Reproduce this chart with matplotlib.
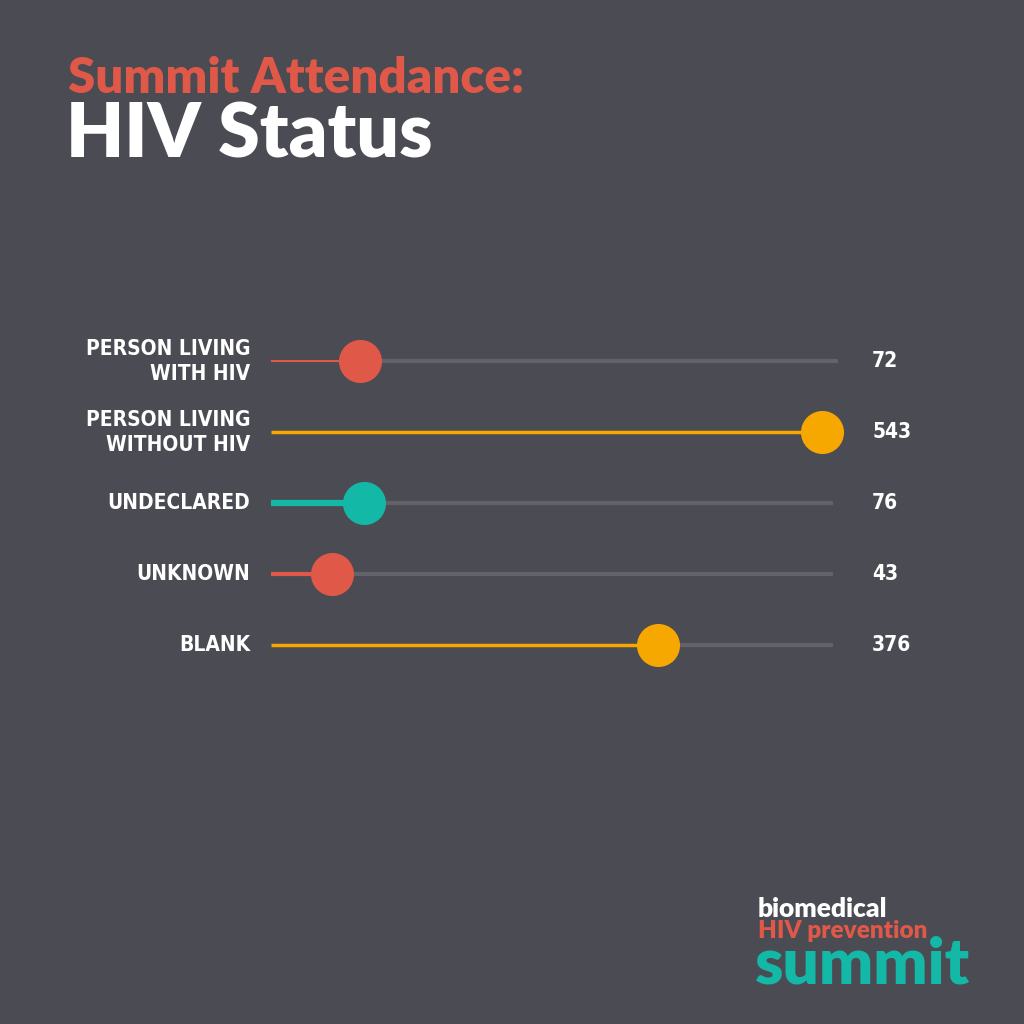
import matplotlib.pyplot as plt
from matplotlib import font_manager

categories = ['PERSON LIVING\nWITH HIV', 'PERSON LIVING\nWITHOUT HIV', 'UNDECLARED', 'UNKNOWN', 'BLANK']
counts = [72, 543, 76, 43, 376]
colors = ['#e05848', '#f7a800', '#14b8a6', '#e05848', '#f7a800']
line_widths = [1.5, 2.5, 4.5, 3, 2.5]

bg = '#4b4b54'
track = '#626269'

names = {f.name for f in font_manager.fontManager.ttflist}
head = 'Lato' if 'Lato' in names else 'DejaVu Sans'

fig = plt.figure(figsize=(10.24, 10.24), dpi=100, facecolor=bg)

# main dot track axes: left edge = line start, right edge = track end
ax = fig.add_axes([271 / 1024, 1 - 680 / 1024, (833 - 271) / 1024, (680 - 326) / 1024])
ax.set_facecolor(bg)
ax.set_xlim(-19, 554)
ax.set_ylim(len(categories) - 0.5, -0.5)
ax.axis('off')

x0, x1 = -19, 554
for i, (cat, v, c, lw) in enumerate(zip(categories, counts, colors, line_widths)):
    end = x1 + 5 if i == 0 else x1
    ax.plot([v, end], [i, i], color=track, lw=3, solid_capstyle='butt', zorder=1, clip_on=False)
    ax.plot([x0, v], [i, i], color=c, lw=lw, solid_capstyle='butt', zorder=2, clip_on=False)
    ax.plot(v, i, 'o', color=c, markersize=31, markeredgewidth=0, zorder=3, clip_on=False)
    ax.text(-40, i, cat, ha='right', va='center', color='white', fontsize=15,
            fontweight='bold', family='DejaVu Sans', fontstretch='condensed',
            linespacing=1.3)
    ax.text(594, i, str(v), ha='left', va='center', color='white', fontsize=15,
            fontweight='bold', family='DejaVu Sans', fontstretch='condensed')

# title
fig.text(68 / 1024, 1 - 93 / 1024, 'Summit Attendance:', color='#e05848', fontsize=35.5,
         fontweight='heavy', family=head, ha='left', va='baseline')
fig.text(66 / 1024, 1 - 158 / 1024, 'HIV Status', color='white', fontsize=54,
         fontweight='heavy', family=head, ha='left', va='baseline')

# logo
fig.text(758 / 1024, 1 - 917 / 1024, 'biomedical', color='white', fontsize=19,
         fontweight='heavy', family=head, ha='left', va='baseline')
fig.text(758 / 1024, 1 - 938 / 1024, 'HIV prevention', color='#e05848', fontsize=17.5,
         fontweight='heavy', family=head, ha='left', va='baseline')
fig.text(755 / 1024, 1 - 984 / 1024, 'summit', color='#14b8a6', fontsize=46,
         fontweight='heavy', family=head, ha='left', va='baseline')

fig.savefig('out.png', dpi=100, facecolor=bg)
